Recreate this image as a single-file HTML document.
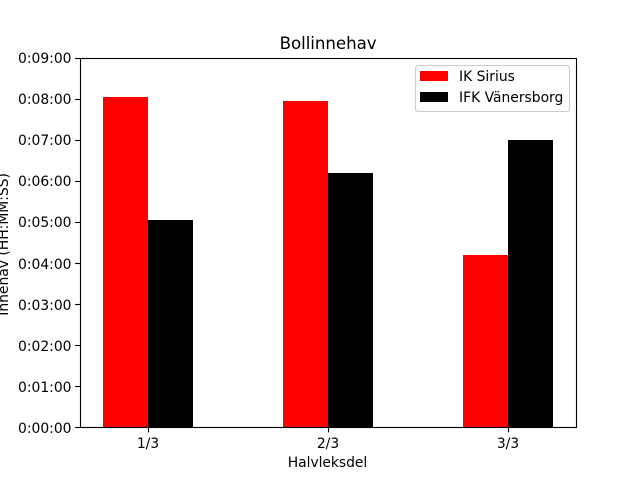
<!DOCTYPE html>
<html>
<head>
<meta charset="utf-8">
<style>
html,body{margin:0;padding:0;background:#fff;}
svg{display:block;}
text{font-family:"DejaVu Sans",sans-serif;fill:#000;}
</style>
</head>
<body>
<svg id="chart" xmlns="http://www.w3.org/2000/svg" width="640" height="480" viewBox="0 0 640 480">
<rect x="0" y="0" width="640" height="480" fill="#fff"/>
<text x="279.6" y="49" textLength="97" lengthAdjust="spacing" style="font-size:16.67px">Bollinnehav</text>
<text x="287.8" y="467" textLength="79.4" lengthAdjust="spacing" style="font-size:13.89px">Halvleksdel</text>
<text transform="translate(8,244.4) rotate(-90)" text-anchor="middle" style="font-size:13.89px">Innehav (HH:MM:SS)</text>
<g id="bars"></g>
<g id="axes"></g>
<g>
<rect x="415.5" y="65.5" width="154" height="46" rx="2.8" fill="#fff" fill-opacity="0.8" stroke="#ccc" stroke-width="1.1"/>
<rect x="420" y="71" width="28" height="10" fill="#f00"/>
<text x="459" y="81" style="font-size:13.89px">IK Sirius</text>
<rect x="420" y="92" width="28" height="10" fill="#000"/>
<text x="459" y="102" style="font-size:13.89px">IFK Vänersborg</text>
</g>
</svg>
<script>
const categories = ['1/3', '2/3', '3/3'];
const siriusSeconds = [483, 477, 252];
const vanersborgSeconds = [303, 371, 420];
const yTickSeconds = [0, 60, 120, 180, 240, 300, 360, 420, 480, 540];
const yTickLabels = ['0:00:00', '0:01:00', '0:02:00', '0:03:00', '0:04:00', '0:05:00', '0:06:00', '0:07:00', '0:08:00', '0:09:00'];

const NS = 'http://www.w3.org/2000/svg';
const plotLeft = 80, plotRight = 576, plotTop = 57.6, plotBottom = 427.2;
const yMax = 540, barWidth = 0.25;
const xMin = -0.375, xMax = categories.length - 1 + 0.375;

function xScale(v) {
  return plotLeft + (v - xMin) / (xMax - xMin) * (plotRight - plotLeft);
}
function yScale(v) {
  return plotBottom - v / yMax * (plotBottom - plotTop);
}
function make(tag, attrs, parent) {
  const el = document.createElementNS(NS, tag);
  Object.keys(attrs).forEach(function (k) { el.setAttribute(k, attrs[k]); });
  parent.appendChild(el);
  return el;
}

const barsGroup = document.getElementById('bars');
const axesGroup = document.getElementById('axes');

function drawBar(catIndex, offset, value, color, name) {
  const x0 = Math.round(xScale(catIndex + offset));
  const x1 = Math.round(xScale(catIndex + offset + barWidth));
  const top = Math.round(yScale(value));
  const bar = make('rect', { x: x0, y: top, width: x1 - x0, height: Math.round(plotBottom) - top, fill: color }, barsGroup);
  
  
}

categories.forEach(function (cat, i) {
  drawBar(i, -barWidth, siriusSeconds[i], '#f00', 'bar-ik-sirius-' + (i + 1));
  drawBar(i, 0, vanersborgSeconds[i], '#000', 'bar-ifk-vanersborg-' + (i + 1));
});

const frameLeft = plotLeft + 0.5;
const frameTop = Math.round(plotTop) + 0.5;
const frameRight = plotRight + 0.5;
const frameBottom = Math.round(plotBottom) + 0.5;
const frame = make('rect', { x: frameLeft, y: frameTop, width: frameRight - frameLeft, height: frameBottom - frameTop, fill: 'none', stroke: '#000', 'stroke-width': 1.11 }, axesGroup);



yTickSeconds.forEach(function (v, i) {
  const y = Math.round(yScale(v)) + 0.5;
  const tick = make('line', { x1: plotLeft - 4.86, x2: plotLeft, y1: y, y2: y, stroke: '#000', 'stroke-width': 1.11 }, axesGroup);
  
  
  const label = make('text', { x: plotLeft - 8.5, y: Math.round(yScale(v) + 5.6), 'text-anchor': 'end', style: 'font-size:13.89px' }, axesGroup);
  
  
  label.textContent = yTickLabels[i];
});

categories.forEach(function (cat, i) {
  const x = Math.round(xScale(i)) + 0.5;
  const tick = make('line', { x1: x, x2: x, y1: frameBottom, y2: frameBottom + 4.86, stroke: '#000', 'stroke-width': 1.11 }, axesGroup);
  
  
  const label = make('text', { x: x - 0.5, y: 448, 'text-anchor': 'middle', style: 'font-size:13.89px' }, axesGroup);
  
  
  label.textContent = cat;
});
</script>
</body>
</html>
